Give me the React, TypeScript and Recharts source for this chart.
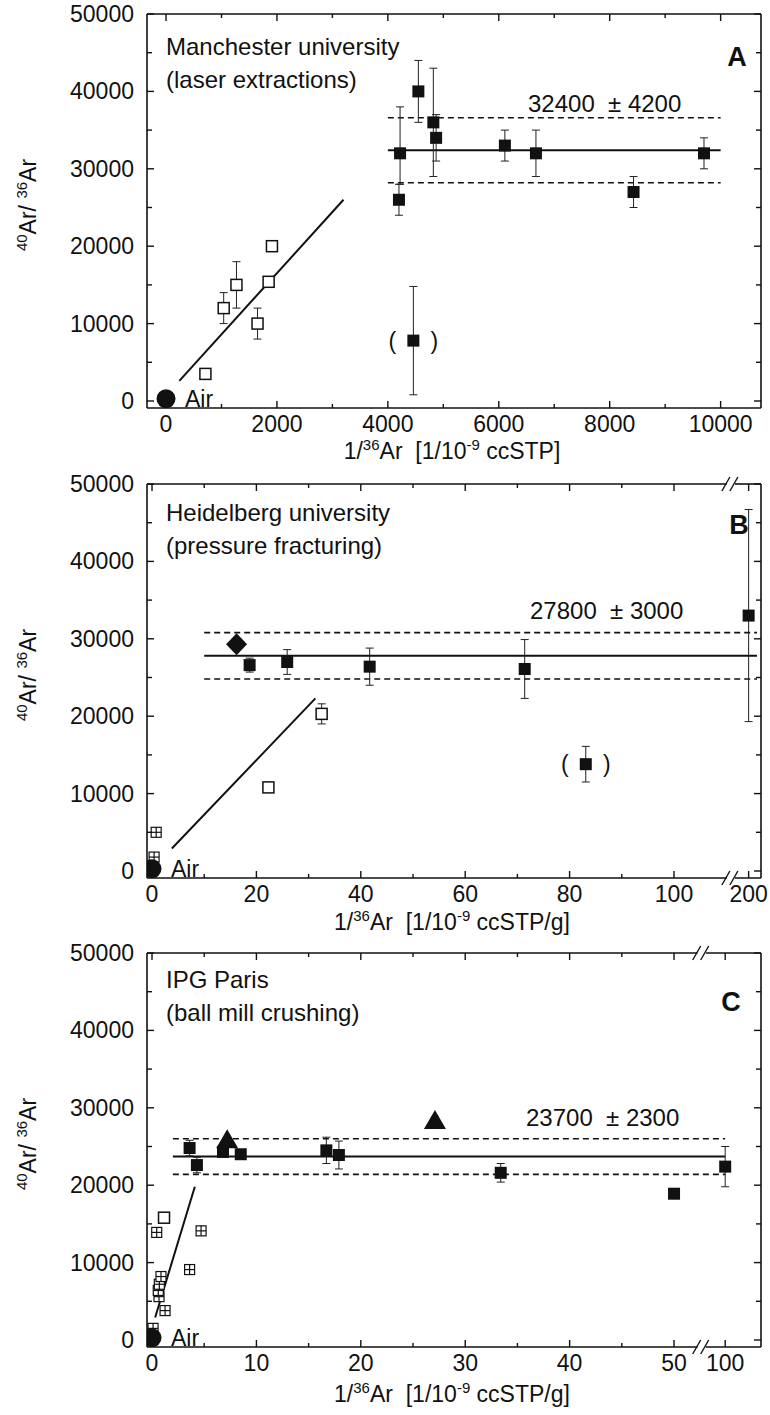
import React from "react";
import {
  ErrorBar,
  ReferenceLine,
  Scatter,
  ScatterChart,
  XAxis,
  YAxis,
} from "recharts";

const FONT = '"Liberation Sans", Arial, Helvetica, sans-serif';
const PLOT_TOP = 14;
const PLOT_BOTTOM = 408;
const PLOT_LEFT = 147;
const PLOT_RIGHT = 761;
const Y_DOMAIN: [number, number] = [-905, 50000];

const yMajor = [0, 10000, 20000, 30000, 40000, 50000];
const yMinor = [5000, 15000, 25000, 35000, 45000];

// ---- A: Manchester, laser extractions
const aMajor = [0, 2000, 4000, 6000, 8000, 10000];
const aMinor = [1000, 3000, 5000, 7000, 9000];
const aAir = [{ x: 0, y: 296 }];
const aOpen = [
  { x: 710, y: 3500, err: 400 },
  { x: 1040, y: 12000, err: 2000 },
  { x: 1270, y: 15000, err: 3000 },
  { x: 1650, y: 10000, err: 2000 },
  { x: 1850, y: 15400, err: 0 },
  { x: 1910, y: 20000, err: 600 },
];
const aFilled = [
  { x: 4220, y: 32000, err: [4000, 6000] },
  { x: 4200, y: 26000, err: [2000, 2000] },
  { x: 4550, y: 40000, err: [4000, 4000] },
  { x: 4820, y: 36000, err: [7000, 7000] },
  { x: 4870, y: 34000, err: [3000, 3000] },
  { x: 6110, y: 33000, err: [2000, 2000] },
  { x: 6670, y: 32000, err: [3000, 3000] },
  { x: 8430, y: 27000, err: [2000, 2000] },
  { x: 9700, y: 32000, err: [2000, 2000] },
];
const aExcluded = [{ x: 4460, y: 7800, err: [7000, 7000] }];
const aFit = [
  { x: 240, y: 2600 },
  { x: 3200, y: 26000 },
];
const aMean = { value: 32400, sd: 4200, from: 4000, to: 10000 };

// ---- B: Heidelberg, pressure fracturing
const bMajor = [0, 20, 40, 60, 80, 100, 200];
const bMinor = [10, 30, 50, 70, 90];
const bAir = [{ x: 0, y: 296 }];
const bCross = [
  { x: 0.8, y: 5000 },
  { x: 0.4, y: 1800 },
];
const bOpen = [
  { x: 22.3, y: 10800, err: 0 },
  { x: 32.5, y: 20300, err: 1300 },
];
const bDiamond = [{ x: 16.2, y: 29300 }];
const bFilled = [
  { x: 18.7, y: 26600, err: 900 },
  { x: 25.9, y: 27000, err: 1600 },
  { x: 41.7, y: 26400, err: 2400 },
  { x: 71.4, y: 26100, err: 3800 },
  { x: 200, y: 33000, err: 13700 },
];
const bExcluded = [{ x: 83.1, y: 13800, err: 2300 }];
const bFit = [
  { x: 3.8, y: 2900 },
  { x: 31.3, y: 22300 },
];
const bMean = { value: 27800, sd: 3000, from: 10, to: 208 };

// ---- C: IPG Paris, ball mill crushing
const cMajor = [0, 10, 20, 30, 40, 50, 100];
const cMinor = [5, 15, 25, 35, 45];
const cAir = [{ x: 0, y: 296 }];
const cCross = [
  { x: 0.1, y: 1500 },
  { x: 1.25, y: 3800 },
  { x: 0.67, y: 5600 },
  { x: 0.6, y: 6400 },
  { x: 0.7, y: 7200 },
  { x: 0.86, y: 8200 },
  { x: 3.6, y: 9100 },
  { x: 0.45, y: 13900 },
  { x: 4.7, y: 14100 },
];
const cOpen = [{ x: 1.15, y: 15800, err: 0 }];
const cFilled = [
  { x: 3.6, y: 24800, err: 1000 },
  { x: 4.3, y: 22600, err: 1000 },
  { x: 6.8, y: 24300, err: 0 },
  { x: 8.5, y: 24000, err: 0 },
  { x: 16.7, y: 24500, err: 1700 },
  { x: 17.9, y: 23900, err: 1800 },
  { x: 33.4, y: 21600, err: 1200 },
  { x: 50, y: 18900, err: 0 },
  { x: 100, y: 22400, err: 2600 },
];
const cTriangle = [
  { x: 7.2, y: 25800, err: 0 },
  { x: 27.1, y: 28300, err: 500 },
];
const cFit = [
  { x: 0.3, y: 2900 },
  { x: 4.1, y: 19800 },
];
const cMean = { value: 23700, sd: 2300, from: 2, to: 100 };

// broken x axis: values past the break are squeezed next to the right border
const breakMap = (limit: number, realAt: number, posAt: number, k: number) => (x: number) =>
  x <= limit ? x : posAt + (x - realAt) * k;

const ink = "#111";

const FilledSquare = (p: any) => (
  <rect x={p.cx - 6} y={p.cy - 6} width={12} height={12} fill={ink} />
);
const OpenSquare = (p: any) => (
  <rect x={p.cx - 5.5} y={p.cy - 5.5} width={11} height={11} fill="#fff" stroke={ink} strokeWidth={1.5} />
);
const CrossSquare = (p: any) => (
  <g stroke={ink} strokeWidth={1.2}>
    <rect x={p.cx - 5} y={p.cy - 5} width={10} height={10} fill="#fff" />
    <line x1={p.cx} x2={p.cx} y1={p.cy - 5} y2={p.cy + 5} />
    <line x1={p.cx - 5} x2={p.cx + 5} y1={p.cy} y2={p.cy} />
  </g>
);
const Diamond = (p: any) => (
  <polygon
    points={`${p.cx},${p.cy - 11} ${p.cx + 10.5},${p.cy} ${p.cx},${p.cy + 11} ${p.cx - 10.5},${p.cy}`}
    fill={ink}
  />
);
const Triangle = (p: any) => (
  <polygon points={`${p.cx},${p.cy - 11} ${p.cx + 11},${p.cy + 8} ${p.cx - 11},${p.cy + 8}`} fill={ink} />
);
const AirDot = (p: any) => (
  <g>
    <circle cx={p.cx} cy={p.cy} r={9.5} fill={ink} />
    <text x={p.cx + 19} y={p.cy + 8} fontSize={23} fontFamily={FONT} fill={ink}>
      Air
    </text>
  </g>
);
const Excluded = (p: any) => (
  <g>
    <text x={p.cx - 21} y={p.cy + 8} fontSize={23} fontFamily={FONT} fill={ink} textAnchor="middle">
      (
    </text>
    <rect x={p.cx - 6} y={p.cy - 6} width={12} height={12} fill={ink} />
    <text x={p.cx + 21} y={p.cy + 8} fontSize={23} fontFamily={FONT} fill={ink} textAnchor="middle">
      )
    </text>
  </g>
);

const BreakMark = ({ x, y }: { x: number; y: number }) => (
  <g stroke={ink} strokeWidth={1.4}>
    <rect x={x - 4} y={y - 3} width={8} height={6} fill="#fff" stroke="none" />
    <line x1={x - 9} y1={y + 7} x2={x - 1} y2={y - 7} />
    <line x1={x - 1} y1={y + 7} x2={x + 7} y2={y - 7} />
  </g>
);

const Sup = ({ children }: { children: React.ReactNode }) => (
  <span style={{ fontSize: 15, verticalAlign: "super", lineHeight: 0 }}>{children}</span>
);

interface PanelProps {
  top: number;
  height: number;
  xDomain: [number, number];
  mapX: (x: number) => number;
  major: number[];
  minor: number[];
  breakAt?: number;
  air: any[];
  open: any[];
  cross?: any[];
  filled: any[];
  excluded?: any[];
  diamond?: any[];
  triangle?: any[];
  fit: { x: number; y: number }[];
  mean: { value: number; sd: number; from: number; to: number };
  title: string;
  subtitle: string;
  letter: string;
  letterPos: [number, number];
  titleY: number;
  meanLabel: [number, number];
  unit: string;
  xTitleGap: number;
}

function Panel(p: PanelProps) {
  const m = (arr: any[]) => arr.map((d) => ({ ...d, x: p.mapX(d.x) }));
  const labels = new Map(p.major.map((v) => [p.mapX(v), String(v)]));
  const xTicks = [...p.major.map(p.mapX), ...p.minor.map(p.mapX)];
  if (p.breakAt !== undefined) xTicks.push(p.breakAt);
  const yTicks = [...yMajor, ...yMinor];
  const [xMin, xMax] = p.xDomain;
  const yMax = Y_DOMAIN[1];

  // bottom axis tick also draws the mirrored tick on the top border
  const xTick = (props: any) => {
    const { x, payload } = props;
    const v = payload.value;
    if (p.breakAt !== undefined && v === p.breakAt)
      return (
        <g>
          <BreakMark x={x} y={PLOT_BOTTOM} />
          <BreakMark x={x} y={PLOT_TOP} />
        </g>
      );
    const label = labels.get(v);
    const len = label !== undefined ? 7 : 4;
    return (
      <g>
        <line x1={x} x2={x} y1={PLOT_BOTTOM} y2={PLOT_BOTTOM - len} stroke={ink} strokeWidth={1.4} />
        <line x1={x} x2={x} y1={PLOT_TOP} y2={PLOT_TOP + len} stroke={ink} strokeWidth={1.4} />
        {label !== undefined && (
          <text x={x} y={PLOT_BOTTOM + 24} textAnchor="middle" fontSize={23} fontFamily={FONT} fill={ink}>
            {label}
          </text>
        )}
      </g>
    );
  };

  // left axis tick also draws the mirrored tick on the right border
  const yTick = (props: any) => {
    const { y, payload } = props;
    const v = payload.value;
    const major = v % 10000 === 0;
    const len = major ? 7 : 5;
    return (
      <g>
        <line x1={PLOT_LEFT} x2={PLOT_LEFT + len} y1={y} y2={y} stroke={ink} strokeWidth={1.4} />
        <line x1={PLOT_RIGHT} x2={PLOT_RIGHT - len} y1={y} y2={y} stroke={ink} strokeWidth={1.4} />
        {major && (
          <text x={134} y={y + 8} textAnchor="end" fontSize={23} fontFamily={FONT} fill={ink}>
            {v}
          </text>
        )}
      </g>
    );
  };

  // top border, split where the axis is broken
  const unitsPerPx = (xMax - xMin) / (PLOT_RIGHT - PLOT_LEFT);
  const topSegments: [number, number][] =
    p.breakAt !== undefined
      ? [
          [xMin, p.breakAt - 4 * unitsPerPx],
          [p.breakAt + 4 * unitsPerPx, xMax],
        ]
      : [[xMin, xMax]];

  const axisLine = { stroke: ink, strokeWidth: 1.6 };
  const { value, sd, from, to } = p.mean;
  const x1 = p.mapX(from);
  const x2 = p.mapX(to);
  const bar = { dataKey: "err", direction: "y" as const, width: 4, stroke: "#222", strokeWidth: 1 };

  return (
    <div style={{ position: "absolute", left: 0, top: p.top, width: 770, height: p.height }}>
      <ScatterChart
        width={770}
        height={p.height}
        margin={{ top: PLOT_TOP, right: 770 - PLOT_RIGHT, bottom: 0, left: 0 }}
      >
        <XAxis
          type="number"
          dataKey="x"
          domain={p.xDomain}
          allowDataOverflow
          ticks={xTicks}
          interval={0}
          tick={xTick}
          tickLine={false}
          axisLine={axisLine}
          height={p.height - PLOT_BOTTOM}
        />
        <YAxis
          type="number"
          dataKey="y"
          domain={Y_DOMAIN}
          allowDataOverflow
          ticks={yTicks}
          interval={0}
          tick={yTick}
          tickLine={false}
          axisLine={axisLine}
          width={PLOT_LEFT}
        />
        {topSegments.map(([a, b]) => (
          <ReferenceLine
            key={a}
            segment={[{ x: a, y: yMax }, { x: b, y: yMax }]}
            stroke={ink}
            strokeWidth={1.6}
            ifOverflow="visible"
          />
        ))}
        <ReferenceLine x={xMax} stroke={ink} strokeWidth={1.6} ifOverflow="visible" />
        <ReferenceLine
          segment={[
            { x: p.mapX(p.fit[0].x), y: p.fit[0].y },
            { x: p.mapX(p.fit[1].x), y: p.fit[1].y },
          ]}
          stroke={ink}
          strokeWidth={2}
        />
        <ReferenceLine segment={[{ x: x1, y: value }, { x: x2, y: value }]} stroke={ink} strokeWidth={2} />
        <ReferenceLine
          segment={[{ x: x1, y: value + sd }, { x: x2, y: value + sd }]}
          stroke={ink}
          strokeWidth={1.6}
          strokeDasharray="6 4"
        />
        <ReferenceLine
          segment={[{ x: x1, y: value - sd }, { x: x2, y: value - sd }]}
          stroke={ink}
          strokeWidth={1.6}
          strokeDasharray="6 4"
        />
        {p.cross && <Scatter data={m(p.cross)} shape={CrossSquare} isAnimationActive={false} />}
        <Scatter data={m(p.open)} shape={OpenSquare} isAnimationActive={false}>
          <ErrorBar {...bar} />
        </Scatter>
        <Scatter data={m(p.filled)} shape={FilledSquare} isAnimationActive={false}>
          <ErrorBar {...bar} />
        </Scatter>
        {p.excluded && (
          <Scatter data={m(p.excluded)} shape={Excluded} isAnimationActive={false}>
            <ErrorBar {...bar} />
          </Scatter>
        )}
        {p.diamond && <Scatter data={m(p.diamond)} shape={Diamond} isAnimationActive={false} />}
        {p.triangle && (
          <Scatter data={m(p.triangle)} shape={Triangle} isAnimationActive={false}>
            <ErrorBar {...bar} />
          </Scatter>
        )}
        <Scatter data={m(p.air)} shape={AirDot} isAnimationActive={false} />
      </ScatterChart>

      <div style={{ position: "absolute", left: 166, top: p.titleY, transform: "translateY(-50%)", fontSize: 24, lineHeight: 1, whiteSpace: "nowrap" }}>
        {p.title}
      </div>
      <div style={{ position: "absolute", left: 166, top: p.titleY + 33, transform: "translateY(-50%)", fontSize: 24, lineHeight: 1, whiteSpace: "nowrap" }}>
        {p.subtitle}
      </div>
      <div style={{ position: "absolute", left: p.letterPos[0], top: p.letterPos[1], transform: "translate(-50%,-50%)", fontSize: 27, fontWeight: "bold", lineHeight: 1 }}>
        {p.letter}
      </div>
      <div style={{ position: "absolute", left: p.meanLabel[0], top: p.meanLabel[1], transform: "translateY(-50%)", fontSize: 24, lineHeight: 1, whiteSpace: "pre" }}>
        {`${value}  ± ${sd}`}
      </div>
      <div style={{ position: "absolute", left: 28, top: 205, transform: "translate(-50%,-50%) rotate(-90deg)", fontSize: 23, lineHeight: 1, whiteSpace: "nowrap" }}>
        <Sup>40</Sup>Ar/ <Sup>36</Sup>Ar
      </div>
      <div style={{ position: "absolute", left: 452, top: PLOT_BOTTOM + p.xTitleGap, transform: "translate(-50%,-50%)", fontSize: 23, lineHeight: 1, whiteSpace: "pre" }}>
        1/<Sup>36</Sup>Ar  [1/10<Sup>-9</Sup> {p.unit}]
      </div>
    </div>
  );
}

export default function App() {
  return (
    <div
      style={{
        position: "absolute",
        left: 0,
        top: 0,
        width: 770,
        height: 1415,
        background: "#fff",
        fontFamily: FONT,
        color: ink,
      }}
    >
      <Panel
        top={0}
        height={470}
        xDomain={[-343, 10728]}
        mapX={(x) => x}
        major={aMajor}
        minor={aMinor}
        air={aAir}
        open={aOpen}
        filled={aFilled}
        excluded={aExcluded}
        fit={aFit}
        mean={aMean}
        title="Manchester university"
        subtitle="(laser extractions)"
        letter="A"
        letterPos={[737, 57]}
        titleY={47}
        meanLabel={[528, 104]}
        unit="ccSTP"
        xTitleGap={43}
      />
      <Panel
        top={470}
        height={469}
        xDomain={[-0.96, 116.67]}
        mapX={breakMap(110, 200, 114.3, 0.2)}
        major={bMajor}
        minor={bMinor}
        breakAt={110.9}
        air={bAir}
        cross={bCross}
        open={bOpen}
        diamond={bDiamond}
        filled={bFilled}
        excluded={bExcluded}
        fit={bFit}
        mean={bMean}
        title="Heidelberg university"
        subtitle="(pressure fracturing)"
        letter="B"
        letterPos={[739, 55]}
        titleY={43}
        meanLabel={[530, 141]}
        unit="ccSTP/g"
        xTitleGap={44}
      />
      <Panel
        top={939}
        height={476}
        xDomain={[-0.48, 58.33]}
        mapX={breakMap(52, 100, 54.9, 0.05)}
        major={cMajor}
        minor={cMinor}
        breakAt={52.65}
        air={cAir}
        cross={cCross}
        open={cOpen}
        filled={cFilled}
        triangle={cTriangle}
        fit={cFit}
        mean={cMean}
        title="IPG Paris"
        subtitle="(ball mill crushing)"
        letter="C"
        letterPos={[731, 63]}
        titleY={41}
        meanLabel={[526, 179]}
        unit="ccSTP/g"
        xTitleGap={47}
      />
    </div>
  );
}
